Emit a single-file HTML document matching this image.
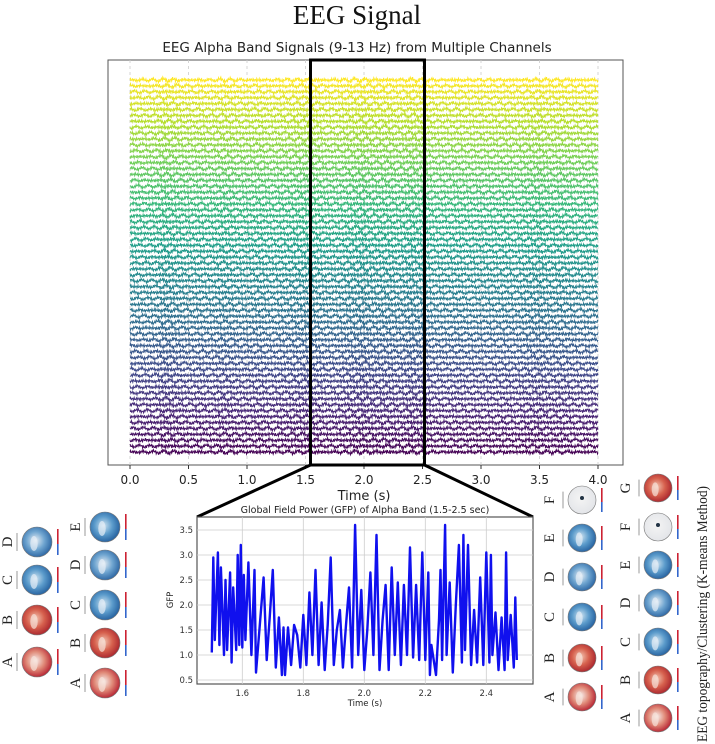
<!DOCTYPE html>
<html><head><meta charset="utf-8">
<style>
html,body{margin:0;padding:0;background:#fff;}
body{width:715px;height:744px;overflow:hidden;position:relative;}
svg{position:absolute;left:0;top:0;}
text{font-family:"DejaVu Sans","Liberation Sans",sans-serif;}
.serif{font-family:"Liberation Serif","DejaVu Serif",serif;}
</style></head>
<body>
<svg id="fig" width="715" height="744" viewBox="0 0 715 744">
  <text class="serif" x="357" y="24" font-size="27" text-anchor="middle" fill="#111">EEG Signal</text>
  <text x="357" y="52" font-size="13.5" text-anchor="middle" fill="#222">EEG Alpha Band Signals (9-13 Hz) from Multiple Channels</text>
  <g id="eeg"></g>
  <g id="gfp"></g>
  <g id="topo"></g>
  <text class="serif" transform="translate(707,614) rotate(-90)" font-size="15" textLength="256" lengthAdjust="spacingAndGlyphs" text-anchor="middle" fill="#222">EEG topography/Clustering (K-means Method)</text>
</svg>
<script>
// ---- EEG data ----
const eegTicks = [0.0,0.5,1.0,1.5,2.0,2.5,3.0,3.5,4.0];
const channelCount = 64;
const envTimes = [0,0.1,0.2,0.3,0.4,0.5,0.6,0.7,0.8,0.9,1.0,1.1,1.2,1.3,1.4,1.5,1.6,1.7,1.8,1.9,2.0,2.1,2.2,2.3,2.4,2.5,2.6,2.7,2.8,2.9,3.0,3.1,3.2,3.3,3.4,3.5,3.6,3.7,3.8,3.9,4.0];
const envValues = [1.0,1.0,1.0,1.4,1.2,1.0,1.1,1.0,1.3,1.1,1.0,1.2,1.0,1.1,1.2,1.3,1.2,1.0,1.1,1.3,1.4,1.2,1.3,1.1,1.4,1.2,1.0,1.0,1.1,1.0,1.0,1.0,1.1,1.0,1.2,1.3,1.1,1.2,1.0,1.0,1.0];
const selStart = 1.5, selEnd = 2.5;

// ---- GFP data ----
const gfpTimes = [1.50,1.505,1.51,1.52,1.525,1.53,1.54,1.545,1.55,1.56,1.565,1.57,1.58,1.585,1.59,1.595,1.60,1.605,1.61,1.62,1.63,1.64,1.645,1.66,1.67,1.68,1.69,1.70,1.71,1.72,1.73,1.735,1.74,1.75,1.76,1.77,1.78,1.79,1.80,1.81,1.82,1.83,1.84,1.85,1.86,1.87,1.88,1.89,1.90,1.91,1.92,1.93,1.94,1.95,1.96,1.97,1.98,1.99,2.00,2.01,2.02,2.03,2.04,2.05,2.06,2.07,2.08,2.09,2.10,2.11,2.12,2.13,2.14,2.15,2.16,2.17,2.18,2.19,2.20,2.21,2.215,2.22,2.235,2.245,2.25,2.255,2.265,2.27,2.28,2.29,2.30,2.31,2.32,2.325,2.33,2.34,2.35,2.36,2.37,2.38,2.39,2.40,2.41,2.415,2.42,2.43,2.44,2.45,2.46,2.465,2.47,2.48,2.49,2.495,2.50];
const gfpValues = [1.05,2.95,1.3,3.05,1.2,2.75,1.0,2.5,1.1,2.65,0.85,2.35,1.1,3.0,1.2,3.2,1.15,2.6,1.3,2.85,1.0,2.7,0.65,1.8,2.55,0.9,1.75,2.7,0.75,1.75,0.6,1.55,0.6,1.55,0.8,1.6,1.4,0.75,1.8,0.8,2.25,1.0,2.7,0.8,2.05,0.7,1.6,2.95,0.8,1.5,1.9,0.75,1.6,2.35,0.75,3.6,1.0,2.3,0.7,1.5,2.65,1.0,3.4,0.7,1.7,2.4,0.7,2.75,1.0,2.45,0.8,2.4,1.0,3.15,0.95,2.4,0.9,3.05,0.9,2.65,0.6,1.2,0.6,1.7,2.7,0.9,3.6,1.0,2.45,0.65,2.0,3.2,0.85,3.4,1.1,3.2,0.8,1.9,0.85,2.55,0.8,3.05,0.85,3.0,1.0,1.85,0.7,1.75,0.7,3.05,0.9,1.8,0.75,2.15,0.9];
const gfpXTicks = [1.6,1.8,2.0,2.2,2.4];
const gfpYTicks = [0.5,1.0,1.5,2.0,2.5,3.0,3.5];

// ---- topography data ----
const topoLeft1 = ['A','B','C','D'];
const topoLeft2 = ['A','B','C','D','E'];
const topoRight1 = ['A','B','C','D','E','F'];
const topoRight2 = ['A','B','C','D','E','F','G'];
const topoPolarity = {A:'redmix',B:'red',C:'blue',D:'bluemix',E:'blue',F:'white',G:'red'};

const NS='http://www.w3.org/2000/svg';
function mk(tag,attrs,parent){const e=document.createElementNS(NS,tag);for(const k in attrs)e.setAttribute(k,attrs[k]);parent.appendChild(e);return e;}

// ===== EEG chart =====
const eeg=document.getElementById('eeg');
const EX0=108,EX1=623,EY0=60,EY1=465;
const ex=t=>130+t*117;
const traceTop=80, traceBot=452;
const chY=c=>traceBot-(traceBot-traceTop)*c/(channelCount-1);
const frame=mk('rect',{x:EX0,y:EY0,width:EX1-EX0,height:EY1-EY0,fill:'#fff',stroke:'#555','stroke-width':1},eeg);


eegTicks.forEach(t=>{
  const g=mk('line',{x1:ex(t),x2:ex(t),y1:EY0,y2:EY1,stroke:'#ccc','stroke-dasharray':'3,3','stroke-width':0.8},eeg);
  
  
  const tk=mk('line',{x1:ex(t),x2:ex(t),y1:EY1,y2:EY1+4,stroke:'#333'},eeg);
  
  
  const lb=mk('text',{x:ex(t),y:EY1+19,'font-size':12,'text-anchor':'middle',fill:'#222'},eeg);
  lb.textContent=t.toFixed(1);
  
  
});
const xl=mk('text',{x:(ex(0)+ex(4))/2,y:EY1+35,'font-size':13,'text-anchor':'middle',fill:'#222'},eeg);
xl.textContent='Time (s)';



const viridis=[[68,1,84],[72,40,120],[62,74,137],[49,104,142],[38,130,142],[31,158,137],[53,183,121],[110,206,88],[181,222,43],[253,231,37]];
function vir(f){const p=f*(viridis.length-1),i=Math.min(viridis.length-2,Math.floor(p)),r=p-i;const a=viridis[i],b=viridis[i+1];return 'rgb('+a.map((v,k)=>Math.round(v+(b[k]-v)*r)).join(',')+')';}
function env(t){let i=Math.min(envTimes.length-2,Math.floor(t/0.1));const r=(t-envTimes[i])/0.1;return envValues[i]+(envValues[i+1]-envValues[i])*r;}
for(let c=0;c<channelCount;c++){
  const y0=chY(c);let d='';
  for(let k=0;k<=1000;k++){
    const t=k*0.004;
    const a=1.1*env(t);
    const v=a*(Math.sin(2*Math.PI*11.3*t+c*2.3)*Math.sin(2*Math.PI*0.9*t+c)+0.9*Math.sin(2*Math.PI*61*t+c*0.7)+0.6*Math.sin(2*Math.PI*97*t+c*1.3));
    d+=(k?'L':'M')+ex(t).toFixed(1)+','+(y0-v).toFixed(1);
  }
  const p=mk('path',{d:d,fill:'none',stroke:vir(c/(channelCount-1)),'stroke-width':1.0},eeg);
  
  
}
const sb=mk('rect',{x:ex(selStart)+5,y:EY0,width:ex(selEnd)-ex(selStart)-3,height:EY1-EY0,fill:'none',stroke:'#000','stroke-width':3},eeg);



// ===== GFP chart =====
const gfp=document.getElementById('gfp');
const GX0=197,GX1=533,GY0=517,GY1=684;
const gx=t=>242.3+(t-1.6)*305;
const gy=v=>680-(v-0.5)*50;
const l1=mk('line',{x1:ex(selStart)+5,y1:EY1,x2:GX0,y2:GY0,stroke:'#000','stroke-width':3},gfp);


const l2=mk('line',{x1:ex(selEnd)+2,y1:EY1,x2:GX1,y2:GY0,stroke:'#000','stroke-width':3},gfp);


const gf=mk('rect',{x:GX0,y:GY0,width:GX1-GX0,height:GY1-GY0,fill:'#fff',stroke:'#555','stroke-width':1.2},gfp);


gfpXTicks.forEach(t=>{
  const g=mk('line',{x1:gx(t),x2:gx(t),y1:GY0,y2:GY1,stroke:'#ccc','stroke-width':0.8},gfp);
  
  
  const lb=mk('text',{x:gx(t),y:GY1+12,'font-size':8.5,'text-anchor':'middle',fill:'#333'},gfp);
  lb.textContent=t.toFixed(1);
  
  
});
gfpYTicks.forEach(v=>{
  const g=mk('line',{x1:GX0,x2:GX1,y1:gy(v),y2:gy(v),stroke:'#ccc','stroke-width':0.8},gfp);
  
  
  const lb=mk('text',{x:GX0-4,y:gy(v)+3,'font-size':8.5,'text-anchor':'end',fill:'#333'},gfp);
  lb.textContent=v.toFixed(1);
  
  
});
let gd='';gfpTimes.forEach((t,i)=>{gd+=(i?'L':'M')+gx(t).toFixed(1)+','+gy(gfpValues[i]).toFixed(1);});
const gl=mk('path',{d:gd,fill:'none',stroke:'#1010ee','stroke-width':2.4,'stroke-linejoin':'round'},gfp);


const gt=mk('text',{x:365,y:513,'font-size':9.5,'text-anchor':'middle',fill:'#222'},gfp);
gt.textContent='Global Field Power (GFP) of Alpha Band (1.5-2.5 sec)';


const gxl=mk('text',{x:365,y:706,'font-size':8.5,'text-anchor':'middle',fill:'#222'},gfp);
gxl.textContent='Time (s)';


const gyl=mk('text',{transform:'translate(173,600) rotate(-90)','font-size':8.5,'text-anchor':'middle',fill:'#222'},gfp);
gyl.textContent='GFP';



// ===== Topographies =====
const topo=document.getElementById('topo');
const defs=mk('defs',{},topo);
function grad(id,stops){const g=mk('radialGradient',{id:id,cx:'45%',cy:'45%',r:'60%'},defs);stops.forEach(s=>mk('stop',{offset:s[0],'stop-color':s[1]},g));}
grad('g-red',[['0','#f2c4b0'],['0.5','#d6604d'],['1','#a51f2a']]);
grad('g-redmix',[['0','#f7f0ee'],['0.5','#e08a78'],['1','#b2182b']]);
grad('g-blue',[['0','#cfe3f0'],['0.5','#5b9bcb'],['1','#1f5a9a']]);
grad('g-bluemix',[['0','#e8eef4'],['0.5','#6fa5d0'],['1','#255f9e']]);
grad('g-white',[['0','#f4f4f4'],['1','#e2e4e8']]);
function drawTopo(cx,cy,r,letter,lx){
  const g=mk('g',{},topo);
  
  
  const kind=topoPolarity[letter];
  mk('circle',{cx:cx,cy:cy,r:r,fill:'url(#g-'+kind+')',stroke:'#777','stroke-width':0.6},g);
  if(kind!=='white'){
    const c2=kind.startsWith('red')?'#f7e2da':'#e6eef6';
    mk('ellipse',{cx:cx-r*0.2,cy:cy+r*0.1,rx:r*0.25,ry:r*0.5,fill:c2,opacity:0.7},g);
  }else{
    mk('circle',{cx:cx,cy:cy-2,r:2,fill:'#234'},g);
  }
  mk('rect',{x:cx+r+5,y:cy-r+2,width:1.6,height:r,fill:'#c23'},g);
  mk('rect',{x:cx+r+5,y:cy+2,width:1.6,height:r-4,fill:'#36c'},g);
  mk('line',{x1:cx-r-5,x2:cx-r-5,y1:cy-r*0.6,y2:cy+r*0.6,stroke:'#aaa','stroke-width':1.2},g);
  const t=mk('text',{transform:'translate('+lx+','+cy+') rotate(-90)',class:'serif','font-size':15,'text-anchor':'middle',fill:'#222'},g);
  t.textContent=letter;
}
const L1y=[662,620,580,542], L2y=[683,643,605,565,527];
const R1y=[697,658,617,577,538,500], R2y=[718,680,642,603,565,527,488];
topoLeft1.forEach((L,i)=>drawTopo(37,L1y[i],15,L,12));
topoLeft2.forEach((L,i)=>drawTopo(105,L2y[i],15,L,80));
topoRight1.forEach((L,i)=>drawTopo(582,R1y[i],14,L,554));
topoRight2.forEach((L,i)=>drawTopo(658,R2y[i],14,L,630));
</script>
</body></html>
